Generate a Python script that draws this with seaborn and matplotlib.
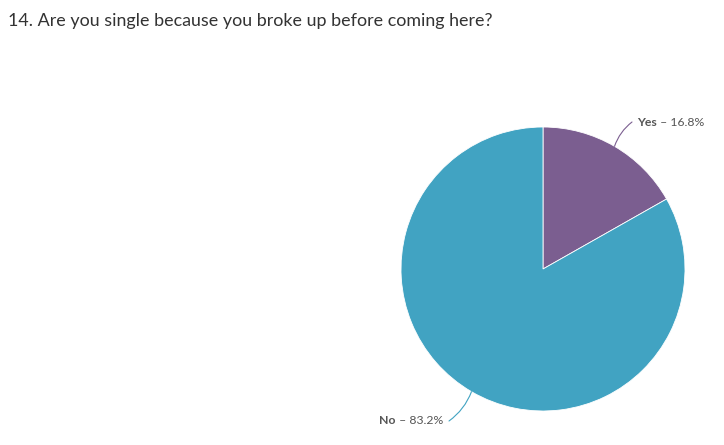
import numpy as np
import matplotlib
matplotlib.use("Agg")
import matplotlib.pyplot as plt
import seaborn as sns

title = "14. Are you single because you broke up before coming here?"
labels = ["Yes", "No"]
values = [16.8, 83.2]
colors = ["#7B5E90", "#41A3C2"]

sns.set_theme(style="white")
plt.rcParams['font.family'] = ['Lato', 'DejaVu Sans']

W, H = 724, 445
fig = plt.figure(figsize=(W / 100, H / 100), dpi=100)
fig.patch.set_facecolor("white")

cx, cy, r = 543, 269, 142
ax = fig.add_axes([(cx - r) / W, (H - cy - r) / H, 2 * r / W, 2 * r / H])
wedges, _ = ax.pie(values, colors=colors, startangle=90, counterclock=False,
                   radius=1.0, wedgeprops=dict(linewidth=0.6, edgecolor="white"))
ax.set_xlim(-1, 1)
ax.set_ylim(-1, 1)
ax.set_aspect("equal")
ax.axis("off")

fig.text(8 / W, 1 - 21 / H, title, fontsize=12.9, color="#333333", va="center", ha="left")

text_pos = {"Yes": (637, 122, "left"), "No": (443, 421, "right")}
line_end = {"Yes": (632, 122), "No": (449, 421)}
rads = {"Yes": -0.15, "No": -0.15}

for w, lab, val in zip(wedges, labels, values):
    ang = np.deg2rad((w.theta1 + w.theta2) / 2)
    px = cx + r * np.cos(ang)
    py = cy - r * np.sin(ang)
    ex, ey = line_end[lab]
    fig.add_artist(matplotlib.patches.FancyArrowPatch(
        (px / W, 1 - py / H), (ex / W, 1 - ey / H), transform=fig.transFigure,
        arrowstyle="-", connectionstyle=f"arc3,rad={rads[lab]}",
        color=w.get_facecolor(), lw=0.8, shrinkA=0, shrinkB=0))
    tx, ty, ha = text_pos[lab]
    rest = f" \u2013 {val:.1f}%"
    if ha == "left":
        t1 = fig.text(tx / W, 1 - ty / H, lab, fontsize=8.8, fontweight="bold",
                      color="#555555", va="center", ha="left")
        fig.canvas.draw()
        bb = t1.get_window_extent()
        fig.text(bb.x1 / W, 1 - ty / H, rest, fontsize=8.8, color="#555555",
                 va="center", ha="left")
    else:
        t2 = fig.text(tx / W, 1 - ty / H, rest, fontsize=8.8, color="#555555",
                      va="center", ha="right")
        fig.canvas.draw()
        bb = t2.get_window_extent()
        fig.text(bb.x0 / W, 1 - ty / H, lab, fontsize=8.8, fontweight="bold",
                 color="#555555", va="center", ha="right")

fig.savefig("out.png", dpi=100, facecolor="white")
